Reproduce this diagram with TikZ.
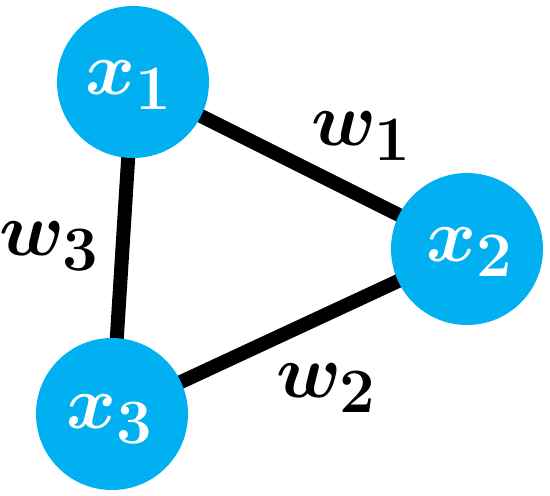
\documentclass[tikz,border=0pt]{standalone}
\usepackage{amsmath}
\usepackage{bm}
\definecolor{nodeblue}{HTML}{00B0F0}
\newcommand{\mylbl}[1]{\scalebox{3.05}{$#1$}}
\tikzset{
  vert/.style={circle, fill=nodeblue, minimum size=152pt, inner sep=0pt},
  edge/.style={line width=14pt, black},
  wlabel/.style={font=\Huge, inner sep=0pt}
}
\begin{document}
\begin{tikzpicture}[x=1pt,y=-1pt]
\useasboundingbox (0,0) rectangle (550,496);
\coordinate (c1) at (133,82);
\coordinate (c2) at (467,249);
\coordinate (c3) at (112,414);
\draw[edge] (c1) -- (c2);
\draw[edge] (c2) -- (c3);
\draw[edge] (c3) -- (c1);
\node[vert] (x1) at (c1) {};
\node[vert] (x2) at (c2) {};
\node[vert] (x3) at (c3) {};
\node[text=white, wlabel] (t1) at (129,85) {\mylbl{\bm{x}_{\mathbf{1}}}};
\node[text=white, wlabel] (t2) at (470,252) {\mylbl{\bm{x}_{\mathbf{2}}}};
\node[text=white, wlabel] (t3) at (110,419) {\mylbl{\bm{x}_{\mathbf{3}}}};
\node[wlabel] (w1) at (362,136) {\mylbl{\bm{w}_{\mathbf{1}}}};
\node[wlabel] (w2) at (327,388) {\mylbl{\bm{w}_{\mathbf{2}}}};
\node[wlabel] (w3) at (50,246) {\mylbl{\bm{w}_{\mathbf{3}}}};
\end{tikzpicture}
\end{document}
